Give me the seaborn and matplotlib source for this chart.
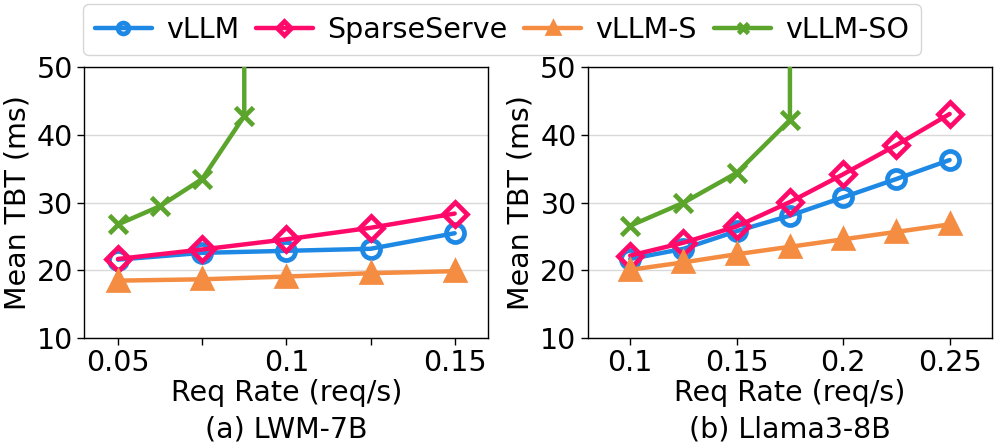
import matplotlib
matplotlib.use("Agg")
import matplotlib.pyplot as plt
import seaborn as sns
import pandas as pd

# (a) LWM-7B
lwm_rate = [0.05, 0.075, 0.1, 0.125, 0.15]
lwm_vllm = [21.6, 22.6, 22.9, 23.2, 25.5]
lwm_sparse = [21.7, 23.1, 24.6, 26.3, 28.4]
lwm_vllm_s = [18.5, 18.7, 19.1, 19.6, 19.9]
lwm_so_rate = [0.05, 0.0625, 0.075, 0.0875, 0.0875]
lwm_so = [26.8, 29.5, 33.5, 42.8, 120.0]  # last point blows up off the chart

# (b) Llama3-8B
llama_rate = [0.1, 0.125, 0.15, 0.175, 0.2, 0.225, 0.25]
llama_vllm = [21.7, 23.2, 25.8, 28.1, 30.8, 33.5, 36.3]
llama_sparse = [22.2, 24.1, 26.5, 30.1, 34.2, 38.5, 43.1]
llama_vllm_s = [20.1, 21.2, 22.4, 23.5, 24.6, 25.7, 26.8]
llama_so_rate = [0.1, 0.125, 0.15, 0.175, 0.175]
llama_so = [26.6, 30.0, 34.4, 42.2, 120.0]

colors = {"vLLM": "#1E88E5", "SparseServe": "#FF0A6A",
          "vLLM-S": "#F48C42", "vLLM-SO": "#5CA52D"}
markers = {"vLLM": "o", "SparseServe": "D", "vLLM-S": "^", "vLLM-SO": "x"}
msizes = {"vLLM": 13, "SparseServe": 12, "vLLM-S": 13, "vLLM-SO": 13}
face = {"vLLM": "none", "SparseServe": "none", "vLLM-S": "#F48C42", "vLLM-SO": "#5CA52D"}

sns.set_theme(style="ticks")
plt.rcParams["font.family"] = ["DejaVu Sans"]
plt.rcParams["font.size"] = 20.5
plt.rcParams["text.color"] = "black"
plt.rcParams["axes.labelcolor"] = "black"
plt.rcParams["xtick.color"] = "black"
plt.rcParams["ytick.color"] = "black"

fig = plt.figure(figsize=(9.96, 4.48), dpi=100)
ax1 = fig.add_axes([0.0847, 0.245, 0.4056, 0.605])
ax2 = fig.add_axes([0.5900, 0.245, 0.4062, 0.605])


def draw(ax, series):
    for name, x, y in series:
        df = pd.DataFrame({"rate": x, "tbt": y})
        sns.lineplot(data=df, x="rate", y="tbt", ax=ax, estimator=None, sort=False,
                     color=colors[name], linewidth=3.2, marker=markers[name],
                     markersize=msizes[name], markeredgewidth=3.4,
                     markerfacecolor=face[name], markeredgecolor=colors[name],
                     label=name, zorder=3)
    ax.set_ylim(10, 50)
    ax.set_yticks([10, 20, 30, 40, 50])
    ax.yaxis.grid(True, color="#d9d9d9", linewidth=1.0)
    ax.set_axisbelow(True)
    ax.set_ylabel("Mean TBT (ms)", fontsize=20.5, labelpad=4)
    ax.tick_params(labelsize=20.5, length=5, width=1, pad=3)
    for s in ax.spines.values():
        s.set_color("black")
        s.set_linewidth(1.0)
    ax.get_legend().remove()


draw(ax1, [("vLLM", lwm_rate, lwm_vllm), ("SparseServe", lwm_rate, lwm_sparse),
           ("vLLM-S", lwm_rate, lwm_vllm_s), ("vLLM-SO", lwm_so_rate, lwm_so)])
ax1.set_xlim(0.04, 0.16)
ax1.set_xticks([0.05, 0.075, 0.1, 0.125, 0.15])
ax1.set_xticklabels(["0.05", "", "0.1", "", "0.15"])
ax1.set_xlabel("Req Rate (req/s)\n(a) LWM-7B", fontsize=20.5, linespacing=1.4, labelpad=1)

draw(ax2, [("vLLM", llama_rate, llama_vllm), ("SparseServe", llama_rate, llama_sparse),
           ("vLLM-S", llama_rate, llama_vllm_s), ("vLLM-SO", llama_so_rate, llama_so)])
ax2.set_xlim(0.08, 0.27)
ax2.set_xticks([0.1, 0.15, 0.2, 0.25])
ax2.set_xticklabels(["0.1", "0.15", "0.2", "0.25"])
ax2.set_xlabel("Req Rate (req/s)\n(b) Llama3-8B", fontsize=20.5, linespacing=1.4, labelpad=1)

handles, labels = ax1.get_legend_handles_labels()
fig.legend(handles, labels, loc="upper center", bbox_to_anchor=(0.504, 1.0),
           ncol=4, fontsize=20.5, frameon=True, markerscale=0.6,
           handlelength=2.0, columnspacing=0.6, handletextpad=0.5,
           borderpad=0.4, borderaxespad=0.15, edgecolor="#cccccc")

fig.savefig("out.png", dpi=100)
